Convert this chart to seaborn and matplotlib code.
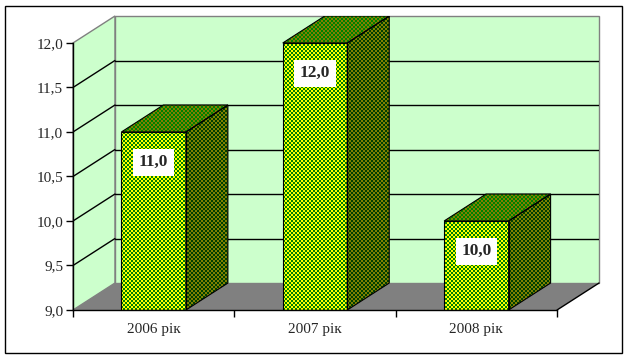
import numpy as np
import seaborn as sns
import matplotlib.pyplot as plt
from matplotlib.patches import Polygon, Rectangle
from matplotlib.colors import to_rgb

years = ["2006 рік", "2007 рік", "2008 рік"]
values = [11.0, 12.0, 10.0]
value_labels = ["11,0", "12,0", "10,0"]
y_ticks = [9.0, 9.5, 10.0, 10.5, 11.0, 11.5, 12.0]
y_tick_labels = ["9,0", "9,5", "10,0", "10,5", "11,0", "11,5", "12,0"]

# fake 3d: depth shift in data units
DX = 0.26
DY = 0.303
Y0 = 9.0
Y1 = 12.0

WALL = "#ccffcc"
FLOOR = "#808080"
EDGE = "#808080"

sns.set_style("white")
plt.rcParams["font.family"] = ["Liberation Serif", "DejaVu Serif"]

fig = plt.figure(figsize=(6.28, 3.6), dpi=100)
ax = fig.add_axes([73 / 628, 50 / 360, 526 / 628, 294 / 360])
ax.set_facecolor("none")

XL = (-0.5, 2.5 + DX)
YL = (Y0, Y1 + DY)

# checker texture, one cell ~2px
H, W = 294, 526
ii, jj = np.indices((H, W))
checker = ((ii // 2 + jj // 2) % 2 == 0).astype(float)


def textured(xy, bg, fg, z=3):
    poly = Polygon(xy, facecolor=bg, edgecolor="none", zorder=z)
    ax.add_patch(poly)
    img = np.zeros((H, W, 4))
    img[..., :3] = to_rgb(fg)
    img[..., 3] = checker
    im = ax.imshow(img, extent=(XL[0], XL[1], YL[0], YL[1]), aspect="auto",
                   interpolation="nearest", zorder=z + 0.01)
    im.set_clip_path(poly)
    ax.add_patch(Polygon(xy, facecolor="none", edgecolor="black", lw=0.8, zorder=z + 0.02))


# walls and floor
ax.add_patch(Rectangle((-0.5 + DX, Y0 + DY), 3, Y1 - Y0, facecolor=WALL,
                       edgecolor=EDGE, lw=1, zorder=0, clip_on=False))
ax.add_patch(Polygon([(-0.5, Y0), (-0.5, Y1), (-0.5 + DX, Y1 + DY), (-0.5 + DX, Y0 + DY)],
                     facecolor=WALL, edgecolor=EDGE, lw=1, zorder=0, clip_on=False))
ax.add_patch(Polygon([(-0.5, Y0), (2.5, Y0), (2.5 + DX, Y0 + DY), (-0.5 + DX, Y0 + DY)],
                     facecolor=FLOOR, edgecolor="none", zorder=0.5, clip_on=False))
ax.plot([2.5, 2.5 + DX], [Y0, Y0 + DY], color="black", lw=1, zorder=0.6, clip_on=False)

for t in y_ticks[1:-1]:
    ax.plot([-0.5 + DX, 2.5 + DX], [t + DY, t + DY], color="black", lw=1, zorder=1)
    ax.plot([-0.5, -0.5 + DX], [t, t + DY], color="black", lw=1, zorder=1)

# front faces come from seaborn, the 3d faces are built on them
sns.barplot(x=years, y=values, width=0.4, color="#008000", saturation=1,
            edgecolor="black", linewidth=0.8, ax=ax)

for p in list(ax.patches[3:]):
    x0 = p.get_x()
    x1 = x0 + p.get_width()
    v = p.get_height()
    p.set_visible(False)
    textured([(x0, Y0), (x1, Y0), (x1, v), (x0, v)], "#008000", "#ffff00")
    textured([(x1, Y0), (x1 + DX, Y0 + DY), (x1 + DX, v + DY), (x1, v)], "#004000", "#808000")
    textured([(x0, v), (x1, v), (x1 + DX, v + DY), (x0 + DX, v + DY)], "#008000", "#808000")

for i, (v, lab) in enumerate(zip(values, value_labels)):
    ax.text(i, v - 0.34, lab, ha="center", va="center", fontsize=12.5,
            fontweight="bold", zorder=6,
            bbox=dict(facecolor="white", edgecolor="none", pad=4))

ax.set_xlim(*XL)
ax.set_ylim(*YL)

ax.set_yticks(y_ticks, y_tick_labels)
ax.set_xticks([0, 1, 2], years)
ax.set_xticks([-0.5, 0.5, 1.5, 2.5], minor=True)
ax.tick_params(axis="y", left=True, length=5, width=1, color="black",
               labelsize=11, pad=2)
ax.tick_params(axis="x", which="major", bottom=True, length=0, labelsize=11, pad=9)
ax.tick_params(axis="x", which="minor", bottom=True, length=5, width=1, color="black")

for s in ("top", "right"):
    ax.spines[s].set_visible(False)
ax.spines["left"].set_bounds(Y0, Y1)
ax.spines["bottom"].set_bounds(-0.5, 2.5)
for s in ("left", "bottom"):
    ax.spines[s].set_color("black")
    ax.spines[s].set_linewidth(1)
    ax.spines[s].set_zorder(4)

fig.add_artist(Rectangle((5 / 628, 7 / 360), 617 / 628, 347 / 360,
                         transform=fig.transFigure, fill=False,
                         edgecolor="black", lw=1))

fig.savefig("out.png", dpi=100)
